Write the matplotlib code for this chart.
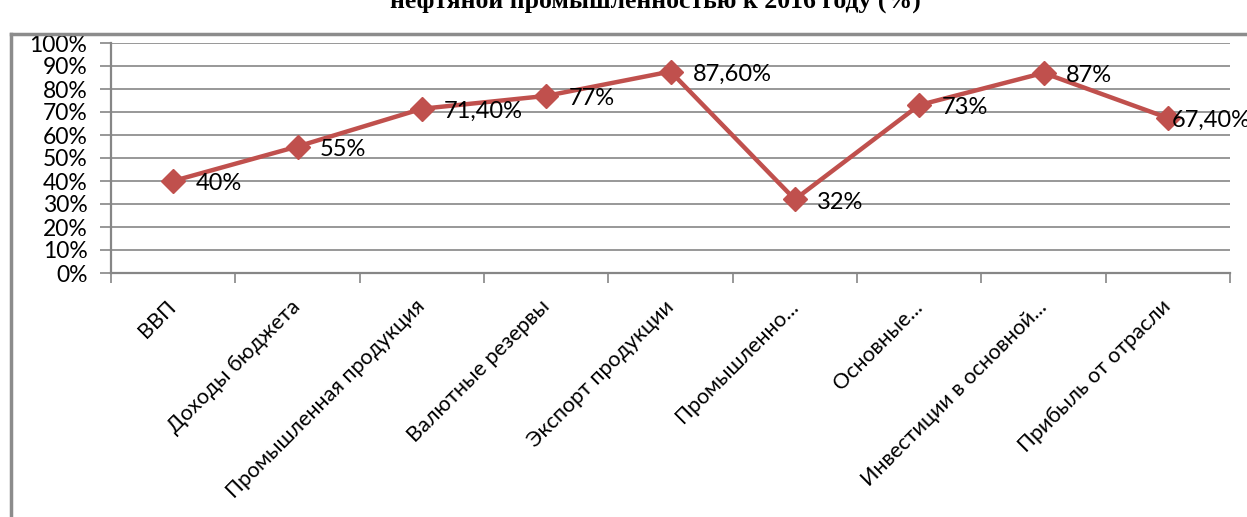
import matplotlib
matplotlib.use("Agg")
import matplotlib.pyplot as plt
from matplotlib.lines import Line2D
from matplotlib.ticker import FixedLocator, PercentFormatter

CATEGORIES = ["ВВП", "Доходы бюджета", "Промышленная продукция",
              "Валютные резервы", "Экспорт продукции", "Промышленно...",
              "Основные...", "Инвестиции в основной...", "Прибыль от отрасли"]
VALUES = [40, 55, 71.4, 77, 87.6, 32, 73, 87, 67.4]
TITLE = "нефтяной промышленностью к 2016 году (%)"

LINE_COLOR = "#C0504D"
GRID_COLOR = "#868686"
FONT = "Lato"


def fmt_label(v):
    if float(v).is_integer():
        return f"{int(v)}%"
    return f"{v:.2f}%".replace(".", ",")


W, H = 1247, 517
fig = plt.figure(figsize=(W / 100, H / 100), dpi=100)
ax = fig.add_axes([111 / W, (H - 273) / H, (1230 - 111) / W, (273 - 43) / H])

x = list(range(len(CATEGORIES)))
y = [v / 100 for v in VALUES]
ax.plot(x, y, color=LINE_COLOR, linewidth=3.2, marker="D", markersize=12,
        markeredgecolor=LINE_COLOR, markerfacecolor=LINE_COLOR, zorder=3,
        clip_on=False)

for i, (xi, yi, v) in enumerate(zip(x, y, VALUES)):
    # last label is pulled in so it fits inside the chart area
    dx = 3 if i == len(VALUES) - 1 else 16
    ax.annotate(fmt_label(v), (xi, yi), xytext=(dx, -2), textcoords="offset points",
                ha="left", va="center", fontsize=17, family=FONT, color="black",
                annotation_clip=False, zorder=4)

ax.set_xlim(-0.5, len(CATEGORIES) - 0.5)
ax.set_ylim(0, 1)
ax.yaxis.set_major_locator(FixedLocator([i / 10 for i in range(11)]))
ax.yaxis.set_major_formatter(PercentFormatter(1.0, decimals=0))
ax.grid(axis="y", color=GRID_COLOR, linewidth=1.2)
ax.set_axisbelow(True)

ax.set_xticks(x)
ax.set_xticklabels(CATEGORIES, rotation=45, ha="right", va="center",
                   rotation_mode="anchor", fontsize=15.5, family=FONT)
ax.set_xticks([i - 0.5 for i in range(len(CATEGORIES) + 1)], minor=True)
ax.tick_params(axis="x", which="major", length=0, pad=22)
ax.tick_params(axis="x", which="minor", length=7, width=1.2, color=GRID_COLOR)
ax.tick_params(axis="y", length=8, width=1.2, color=GRID_COLOR, pad=9,
               labelsize=16.5)
for lbl in ax.get_yticklabels():
    lbl.set_family(FONT)

for side in ["top", "right"]:
    ax.spines[side].set_visible(False)
for side in ["left", "bottom"]:
    ax.spines[side].set_color(GRID_COLOR)
    ax.spines[side].set_linewidth(1.6)

# chart area border (only top and left edges are visible in the crop)
fig.add_artist(Line2D([11 / W, 11 / W], [0, (H - 34) / H], color="#8c8c8c", linewidth=2.5))
fig.add_artist(Line2D([11 / W, 1], [(H - 34) / H, (H - 34) / H], color="#8c8c8c", linewidth=2.5))

fig.text(655 / W, (H - 1) / H, TITLE, ha="center", va="center", fontsize=18.5,
         family="Liberation Serif", fontweight="bold")

fig.savefig("out.png", dpi=100)
